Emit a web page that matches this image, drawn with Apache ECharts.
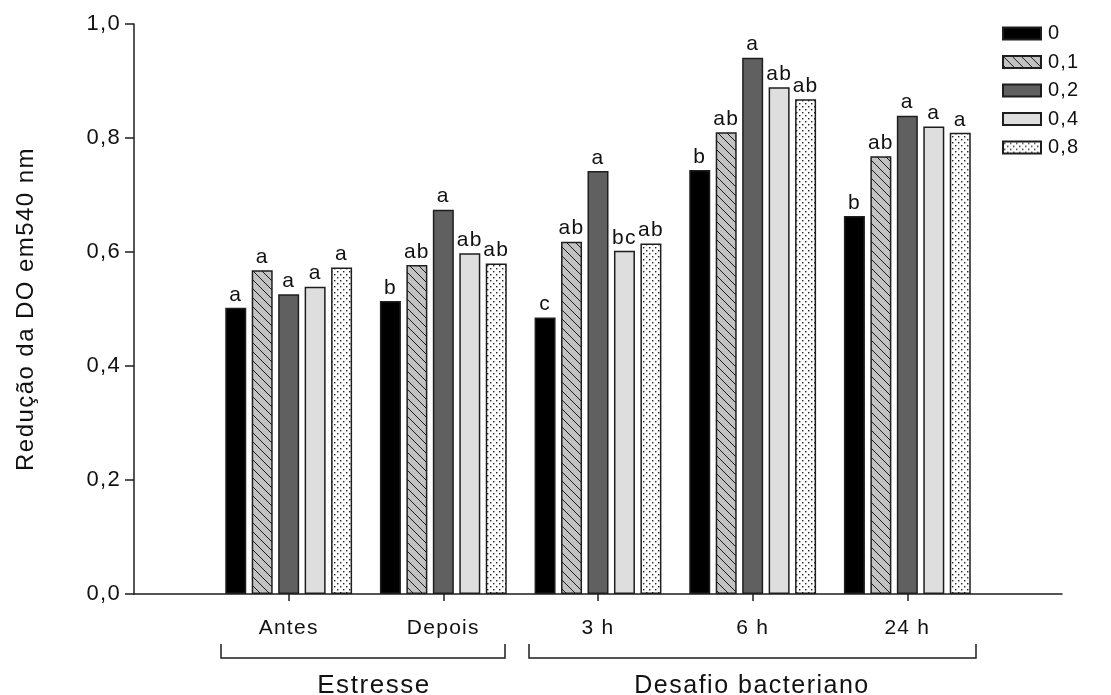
<!DOCTYPE html>
<html>
<head>
<meta charset="utf-8">
<script src="https://cdn.jsdelivr.net/npm/echarts@6/dist/echarts.min.js"></script>
<style>
  html, body { margin: 0; padding: 0; background: #fff; }
  #chart { width: 1111px; height: 695px; }
</style>
</head>
<body>
<div id="chart"></div>
<script>
// Sampling times (the axis is padded with an empty slot at each end)
const categories = ['Antes', 'Depois', '3 h', '6 h', '24 h'];
const seriesNames = ['0', '0,1', '0,2', '0,4', '0,8'];

// Reduction of OD at 540 nm for each dose
const dose0  = [0.502, 0.514, 0.485, 0.744, 0.663];
const dose01 = [0.568, 0.577, 0.618, 0.810, 0.768];
const dose02 = [0.526, 0.674, 0.742, 0.941, 0.839];
const dose04 = [0.539, 0.598, 0.602, 0.889, 0.820];
const dose08 = [0.573, 0.580, 0.615, 0.868, 0.809];

// Significance letters shown above each bar
const letters0  = ['a', 'b', 'c', 'b', 'b'];
const letters01 = ['a', 'ab', 'ab', 'ab', 'ab'];
const letters02 = ['a', 'a', 'a', 'a', 'a'];
const letters04 = ['a', 'ab', 'bc', 'ab', 'a'];
const letters08 = ['a', 'ab', 'ab', 'ab', 'a'];

const yTicks = [0, 0.2, 0.4, 0.6, 0.8, 1.0];

// Group labels drawn under the category axis
const groupNames = ['Estresse', 'Desafio bacteriano'];

// Slightly open tracking for all canvas text (applied to drawing and measuring alike)
(function () {
  const proto = CanvasRenderingContext2D.prototype;
  const track = ctx => {
    const m = /(\d+(?:\.\d+)?)px/.exec(ctx.font || '');
    ctx.letterSpacing = m ? (parseFloat(m[1]) * 0.06).toFixed(2) + 'px' : '0px';
  };
  ['fillText', 'strokeText', 'measureText'].forEach(fn => {
    const orig = proto[fn];
    proto[fn] = function () { track(this); return orig.apply(this, arguments); };
  });
})();

function hatchPattern() {
  const s = 9;
  const c = document.createElement('canvas');
  c.width = s; c.height = s;
  const g = c.getContext('2d');
  g.fillStyle = '#c2c2c2';
  g.fillRect(0, 0, s, s);
  g.strokeStyle = '#1a1a1a';
  g.lineWidth = 1;
  g.beginPath();
  g.moveTo(-1, -1); g.lineTo(s + 1, s + 1);
  g.moveTo(s - 1, -1); g.lineTo(s + 1, 1);
  g.moveTo(-1, s - 1); g.lineTo(1, s + 1);
  g.stroke();
  return c;
}

function dotPattern() {
  const s = 6;
  const c = document.createElement('canvas');
  c.width = s; c.height = s;
  const g = c.getContext('2d');
  g.fillStyle = '#ffffff';
  g.fillRect(0, 0, s, s);
  g.fillStyle = '#222222';
  g.fillRect(1, 1, 1.4, 1.4);
  g.fillRect(4, 4, 1.4, 1.4);
  return c;
}

const fills = [
  '#000000',
  { image: hatchPattern(), repeat: 'repeat' },
  '#606060',
  '#dedede',
  { image: dotPattern(), repeat: 'repeat' }
];

const values = [dose0, dose01, dose02, dose04, dose08];
const letters = [letters0, letters01, letters02, letters04, letters08];

const axisData = [''].concat(categories, ['']);
const pad = arr => ['-'].concat(arr, ['-']);
const inner = idx => idx > 0 && idx < axisData.length - 1;

const fontFamily = '"Liberation Sans", Arial, sans-serif';
const ink = '#111111';
const lineInk = '#1e1e1e';

const series = values.map((vals, si) => ({
  name: seriesNames[si],
  type: 'bar',
  data: pad(vals),
  barWidth: 21,
  barGap: '26%',
  itemStyle: {
    color: fills[si],
    borderColor: lineInk,
    borderWidth: 1.5
  },
  label: {
    show: true,
    position: 'top',
    distance: 2,
    color: ink,
    fontFamily: fontFamily,
    fontSize: 21,
    formatter: p => letters[si][p.dataIndex - 1]
  },
  emphasis: { disabled: true }
}));

const chart = echarts.init(document.getElementById('chart'), null, { renderer: 'canvas' });

chart.setOption({
  animation: false,
  backgroundColor: '#ffffff',
  textStyle: { fontFamily: fontFamily, color: ink },
  grid: { left: 134, right: 49, top: 24, bottom: 101, containLabel: false },
  legend: {
    orient: 'vertical',
    left: 1002,
    top: 23,
    padding: 0,
    itemWidth: 38,
    itemHeight: 12,
    itemGap: 7.3,
    icon: 'rect',
    data: seriesNames,
    textStyle: { fontFamily: fontFamily, fontSize: 20, color: ink, padding: [0, 0, 0, 2] },
    selectedMode: false
  },
  xAxis: {
    type: 'category',
    data: axisData,
    boundaryGap: false,
    axisLine: { lineStyle: { color: lineInk, width: 1.5 } },
    axisTick: { show: true, inside: false, length: 7, interval: inner, lineStyle: { color: lineInk, width: 1.5 } },
    axisLabel: {
      interval: 0,
      margin: 23,
      fontFamily: fontFamily,
      fontSize: 21,
      color: ink
    },
    splitLine: { show: false }
  },
  yAxis: {
    type: 'value',
    min: yTicks[0],
    max: yTicks[yTicks.length - 1],
    interval: 0.2,
    name: 'Redução da DO em540 nm',
    nameLocation: 'middle',
    nameGap: 95,
    nameTextStyle: { fontFamily: fontFamily, fontSize: 24, color: ink },
    axisLine: { show: true, lineStyle: { color: lineInk, width: 1.5 } },
    axisTick: { show: true, inside: false, length: 9, lineStyle: { color: lineInk, width: 1.5 } },
    axisLabel: {
      margin: 13,
      fontFamily: fontFamily,
      fontSize: 22,
      color: ink,
      formatter: v => v.toFixed(1).replace('.', ',')
    },
    splitLine: { show: false }
  },
  graphic: [
    { type: 'polyline', shape: { points: [[221, 644], [221, 658], [505, 658], [505, 644]] },
      style: { stroke: lineInk, lineWidth: 1.5, fill: null } },
    { type: 'polyline', shape: { points: [[529, 644], [529, 658], [976, 658], [976, 644]] },
      style: { stroke: lineInk, lineWidth: 1.5, fill: null } },
    { type: 'text', x: 374, y: 686,
      style: { text: groupNames[0], fontFamily: fontFamily, fontSize: 26, fill: ink, textAlign: 'center', textVerticalAlign: 'middle' } },
    { type: 'text', x: 752, y: 686,
      style: { text: groupNames[1], fontFamily: fontFamily, fontSize: 25, fill: ink, textAlign: 'center', textVerticalAlign: 'middle' } }
  ],
  series: series
});
</script>
</body>
</html>
